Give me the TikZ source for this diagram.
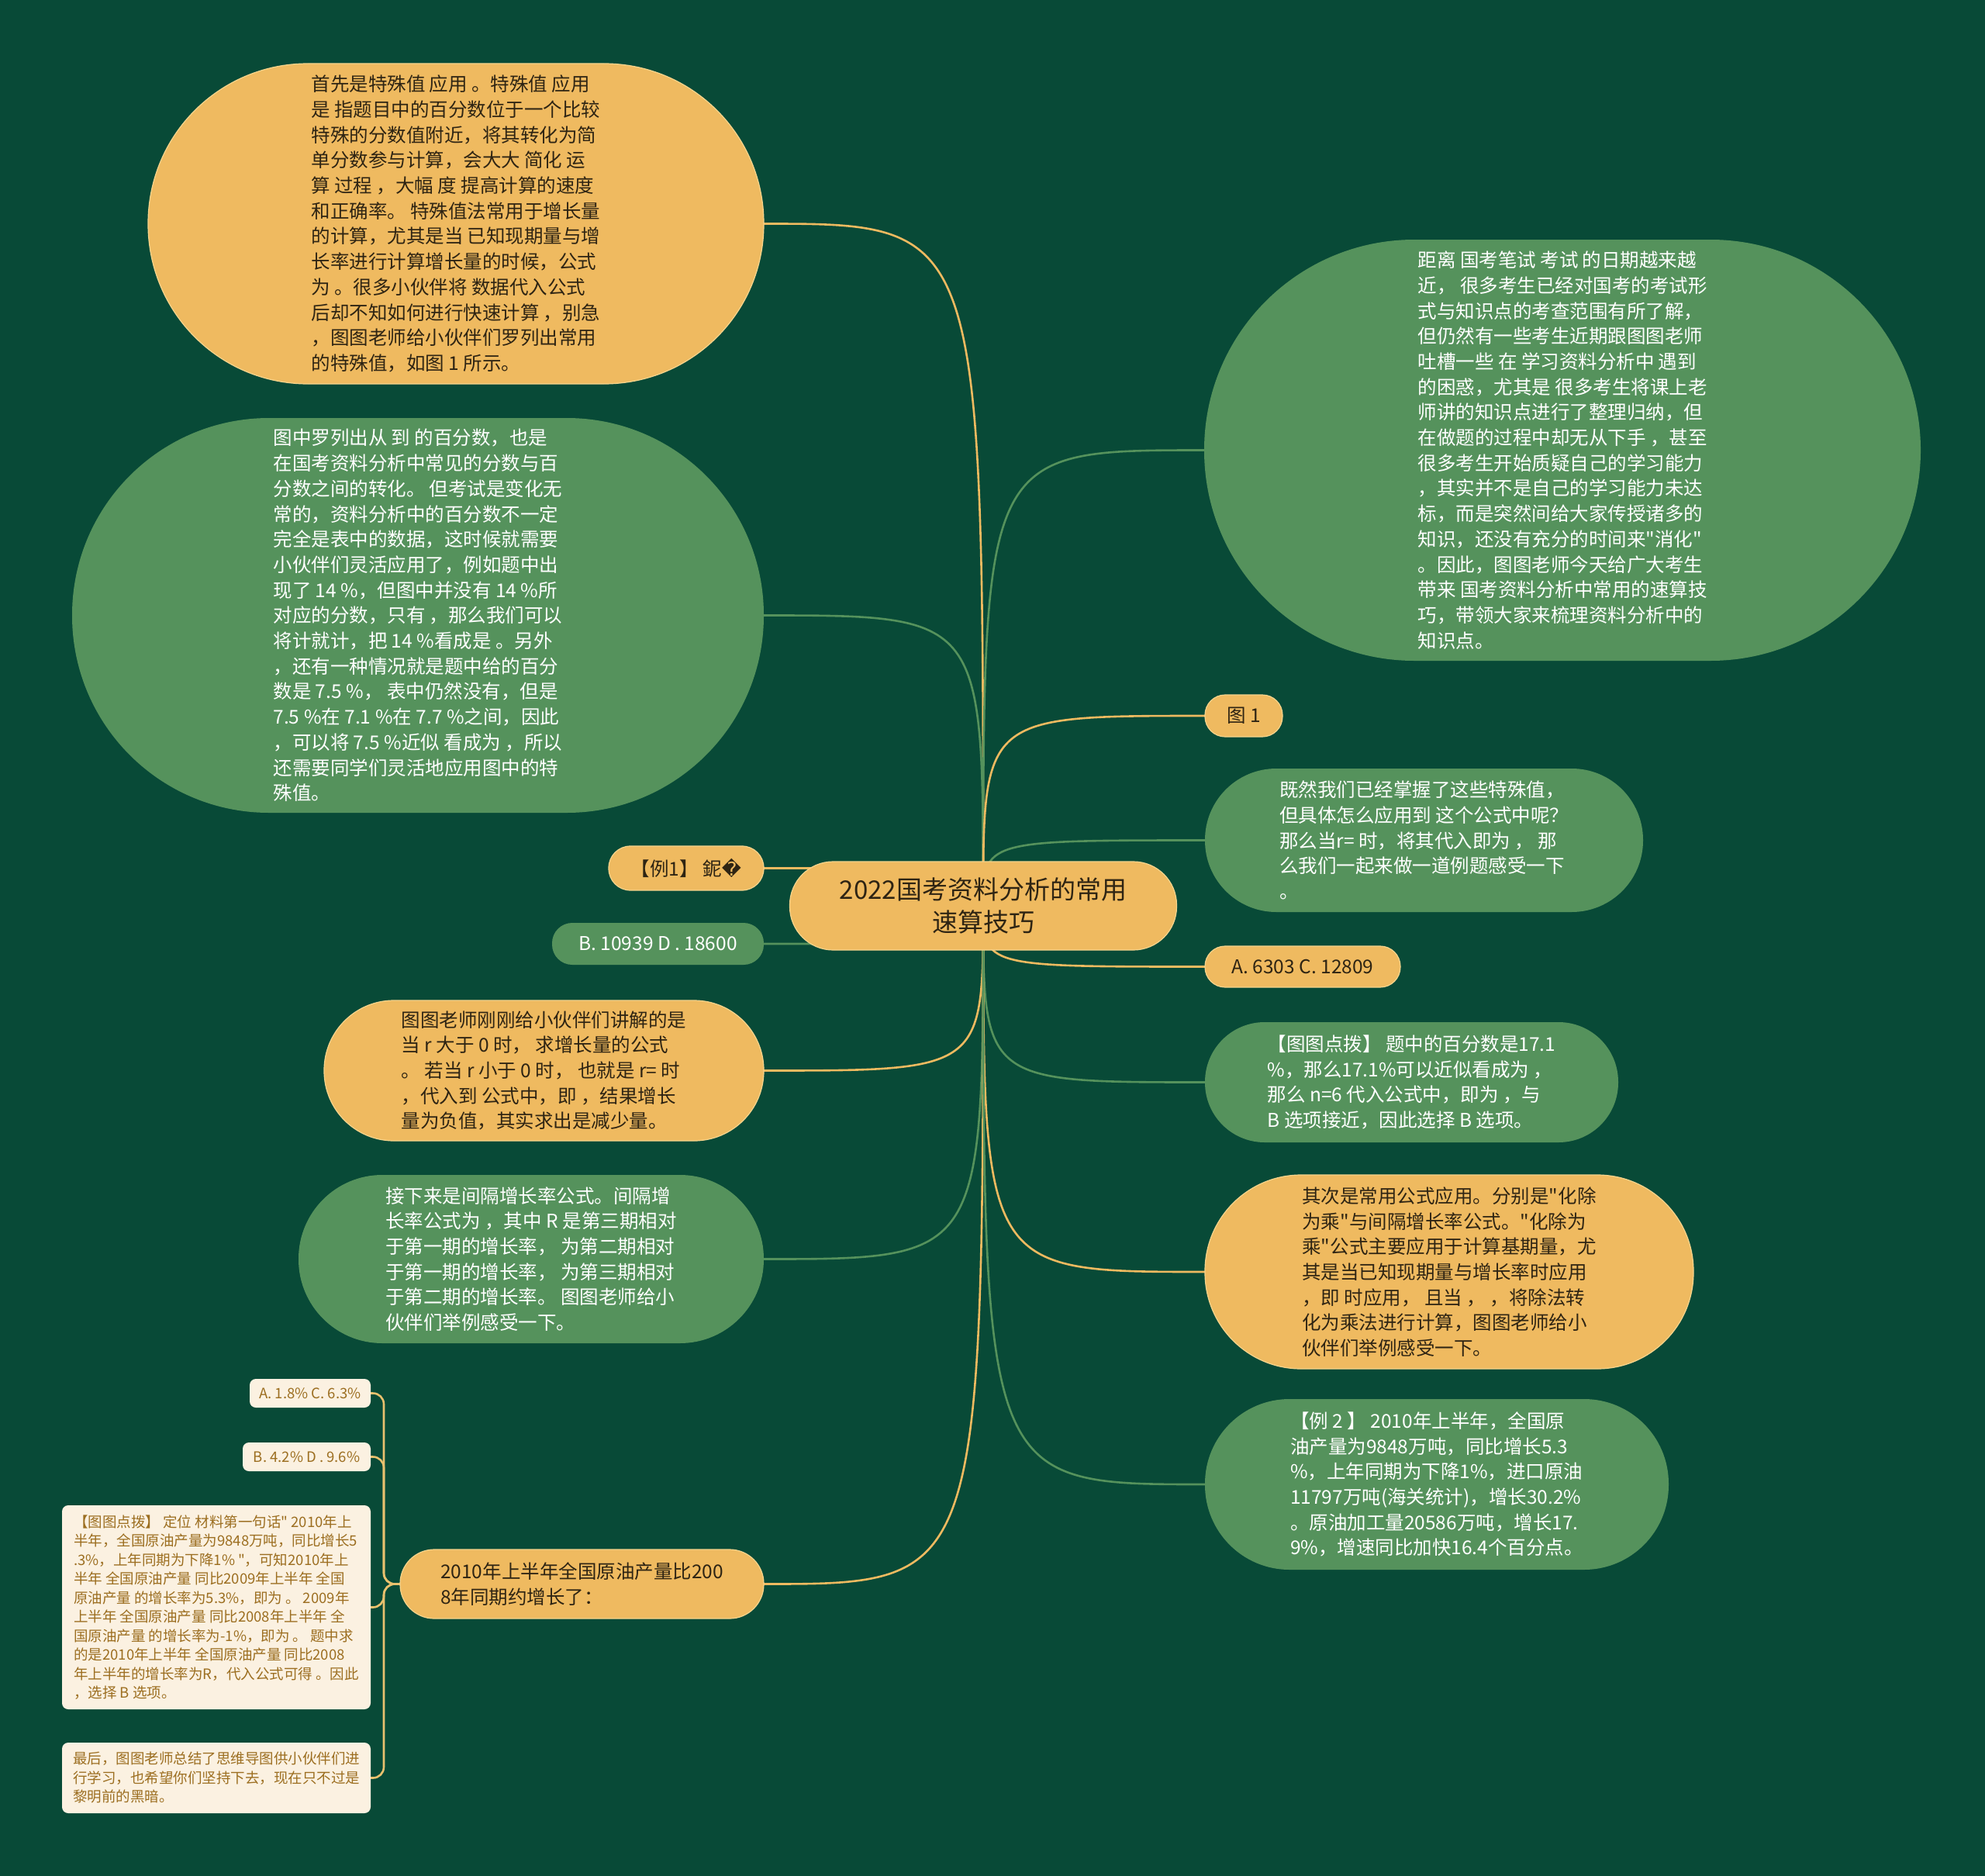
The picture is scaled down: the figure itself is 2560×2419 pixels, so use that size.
\documentclass[tikz,border=0pt]{standalone}
\usepackage{fontspec}
\newfontfamily\cjk{Noto Sans CJK SC}
\newfontfamily\dejavu{DejaVu Sans}
\pgfdeclarelayer{back}
\pgfdeclarelayer{lines}
\pgfsetlayers{back,lines,main}
\definecolor{bgc}{HTML}{084A37}
\definecolor{org}{HTML}{EFBA60}
\definecolor{orgb}{HTML}{F6D48C}
\definecolor{grn}{HTML}{55925C}
\definecolor{darktxt}{HTML}{2E2413}
\definecolor{cream}{HTML}{FBF1E1}
\definecolor{goldtxt}{HTML}{9C6E20}
\definecolor{bline}{HTML}{E9C16E}
\begin{document}
\begin{tikzpicture}[x=1pt,y=-1pt,
  base/.style={inner sep=0pt, outer sep=0pt, align=left},
  bodyfont/.style={font=\cjk\fontsize{24.5pt}{32.7pt}\selectfont},
  onode/.style={base, bodyfont, fill=org, draw=orgb, line width=1.2pt, text=darktxt},
  gnode/.style={base, bodyfont, fill=grn, text=white},
  sbox/.style={base, fill=cream, text=goldtxt, rounded corners=8pt, font=\cjk\fontsize{18.5pt}{24.5pt}\selectfont},
  oline/.style={draw=org, line width=2.6pt},
  gline/.style={draw=grn, line width=2.6pt},
  bracket/.style={draw=bline, line width=2.6pt, rounded corners=14pt}
]
\begin{pgfonlayer}{back}
\fill[bgc] (0,0) rectangle (2560,2419);
\end{pgfonlayer}
\useasboundingbox (0,0) rectangle (2560,2419);

% root
\node[onode, minimum width=499pt, minimum height=114pt, rounded corners=56pt, align=center,
      font=\cjk\fontsize{33pt}{42pt}\selectfont] (root) at (1268,1168) {2022国考资料分析的常用\\速算技巧};

% left side
\node[onode, minimum width=794pt, minimum height=413pt, rounded corners=206pt] (n1) at (588,288.5) {首先是特殊值 应用 。特殊值 应用\\是 指题目中的百分数位于一个比较\\特殊的分数值附近，将其转化为简\\单分数参与计算，会大大 简化 运\\算 过程 ，大幅 度 提高计算的速度\\和正确率。 特殊值法常用于增长量\\的计算，尤其是当 已知现期量与增\\长率进行计算增长量的时候，公式\\为 。很多小伙伴将 数据代入公式\\后却不知如何进行快速计算 ，别急\\，图图老师给小伙伴们罗列出常用\\的特殊值，如图 1 所示。};

\node[gnode, minimum width=892pt, minimum height=509pt, rounded corners=254pt] (n2) at (539,793.5) {图中罗列出从 到 的百分数，也是\\在国考资料分析中常见的分数与百\\分数之间的转化。 但考试是变化无\\常的，资料分析中的百分数不一定\\完全是表中的数据，这时候就需要\\小伙伴们灵活应用了，例如题中出\\现了 14 \%，但图中并没有 14 \%所\\对应的分数，只有 ，那么我们可以\\将计就计，把 14 \%看成是 。另外\\，还有一种情况就是题中给的百分\\数是 7.5 \%， 表中仍然没有，但是\\7.5 \%在 7.1 \%在 7.7 \%之间，因此\\，可以将 7.5 \%近似 看成为 ，所以\\还需要同学们灵活地应用图中的特\\殊值。};

\node[onode, minimum width=200pt, minimum height=57pt, rounded corners=28pt] (ex1) at (885,1119.5) {【例1】 鈮{\dejavu\char"FFFD}};

\node[gnode, minimum width=273pt, minimum height=54pt, rounded corners=26pt] (b10939) at (848.5,1217) {B. 10939 D . 18600};

\node[onode, minimum width=567pt, minimum height=181pt, rounded corners=90pt] (ttls) at (701.5,1380.5) {图图老师刚刚给小伙伴们讲解的是\\当 r 大于 0 时， 求增长量的公式\\。 若当 r 小于 0 时， 也就是 r= 时\\，代入到 公式中，即 ，结果增长\\量为负值，其实求出是减少量。};

\node[gnode, minimum width=600pt, minimum height=217pt, rounded corners=108pt] (jxl) at (685,1623.5) {接下来是间隔增长率公式。间隔增\\长率公式为 ，其中 R 是第三期相对\\于第一期的增长率， 为第二期相对\\于第一期的增长率， 为第三期相对\\于第二期的增长率。 图图老师给小\\伙伴们举例感受一下。};

\node[onode, minimum width=469pt, minimum height=89pt, rounded corners=44pt] (n15) at (750.5,2042.5) {2010年上半年全国原油产量比200\\8年同期约增长了：};

% small boxes
\node[sbox, minimum width=156pt, minimum height=37pt] (sa) at (400,1796.5) {A. 1.8\% C. 6.3\%};
\node[sbox, minimum width=165pt, minimum height=37pt] (sb) at (395.5,1878.5) {B. 4.2\% D . 9.6\%};
\node[sbox, minimum width=398pt, minimum height=263pt] (sc) at (279,2072.5) {【图图点拨】 定位 材料第一句话" 2010年上\\半年，全国原油产量为9848万吨，同比增长5\\.3\%，上年同期为下降1\% "，可知2010年上\\半年 全国原油产量 同比2009年上半年 全国\\原油产量 的增长率为5.3\%，即为 。 2009年\\上半年 全国原油产量 同比2008年上半年 全\\国原油产量 的增长率为-1\%，即为 。 题中求\\的是2010年上半年 全国原油产量 同比2008\\年上半年的增长率为R，代入公式可得 。因此\\，选择 B 选项。};
\node[sbox, minimum width=398pt, minimum height=91pt] (sd) at (279,2292.5) {最后，图图老师总结了思维导图供小伙伴们进\\行学习，也希望你们坚持下去，现在只不过是\\黎明前的黑暗。};

% right side
\node[gnode, minimum width=924pt, minimum height=543pt, rounded corners=271pt] (n3) at (2015,580.5) {距离 国考笔试 考试 的日期越来越\\近， 很多考生已经对国考的考试形\\式与知识点的考查范围有所了解，\\但仍然有一些考生近期跟图图老师\\吐槽一些 在 学习资料分析中 遇到\\的困惑，尤其是 很多考生将课上老\\师讲的知识点进行了整理归纳，但\\在做题的过程中却无从下手 ，甚至\\很多考生开始质疑自己的学习能力\\，其实并不是自己的学习能力未达\\标，而是突然间给大家传授诸多的\\知识，还没有充分的时间来"消化"\\。因此，图图老师今天给广大考生\\带来 国考资料分析中常用的速算技\\巧，带领大家来梳理资料分析中的\\知识点。};

\node[onode, minimum width=100pt, minimum height=54pt, rounded corners=26pt] (fig1) at (1604,923) {图 1};

\node[gnode, minimum width=565pt, minimum height=185pt, rounded corners=92pt] (jr) at (1836.5,1083.5) {既然我们已经掌握了这些特殊值，\\但具体怎么应用到 这个公式中呢？\\那么当r= 时，将其代入即为 ， 那\\么我们一起来做一道例题感受一下\\。};

\node[onode, minimum width=252pt, minimum height=53pt, rounded corners=26pt] (a6303) at (1680,1246.5) {A. 6303 C. 12809};

\node[gnode, minimum width=533pt, minimum height=155pt, rounded corners=77pt] (dp) at (1820.5,1395.5) {【图图点拨】 题中的百分数是17.1\\\%，那么17.1\%可以近似看成为 ，\\那么 n=6 代入公式中，即为 ，与\\B 选项接近，因此选择 B 选项。};

\node[onode, minimum width=630pt, minimum height=250pt, rounded corners=124pt] (qc) at (1869,1640) {其次是常用公式应用。分别是"化除\\为乘"与间隔增长率公式。"化除为\\乘"公式主要应用于计算基期量，尤\\其是当已知现期量与增长率时应用\\，即 时应用， 且当 ， ，将除法转\\化为乘法进行计算，图图老师给小\\伙伴们举例感受一下。};

\node[gnode, minimum width=598pt, minimum height=220pt, rounded corners=109pt] (ex2) at (1853,1914) {【例 2 】 2010年上半年，全国原\\油产量为9848万吨，同比增长5.3\\\%，上年同期为下降1\%，进口原油\\11797万吨(海关统计)，增长30.2\%\\。原油加工量20586万吨，增长17.\\9\%，增速同比加快16.4个百分点。};

% connectors
\begin{pgfonlayer}{lines}
\foreach \t/\a/\s in {n1/east/oline, n2/east/gline, ex1/east/oline, b10939/east/gline, ttls/east/oline, jxl/east/gline, n15/east/oline,
                      n3/west/gline, fig1/west/oline, jr/west/gline, a6303/west/oline, dp/west/gline, qc/west/oline, ex2/west/gline}
  \draw[\s] (root.center) .. controls (root.center |- \t.\a) .. (\t.\a);
\foreach \b in {sa, sb, sc, sd}
  \draw[bracket] (n15.west) -- (495,2042.5) -- (495,0 |- \b.east) -- (\b.east);
\end{pgfonlayer}
\end{tikzpicture}
\end{document}
